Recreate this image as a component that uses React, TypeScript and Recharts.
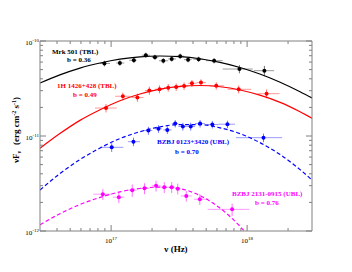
import { ComposedChart, Line, Scatter, XAxis, YAxis, ErrorBar } from 'recharts';

const AXIS = '#808080';
const FONT = '"Liberation Serif", "Times New Roman", serif';

// axis ticks
const xTicks = [4e16, 5e16, 6e16, 7e16, 8e16, 9e16, 1e17, 2e17, 3e17, 4e17, 5e17, 6e17, 7e17, 8e17, 9e17, 1e18, 2e18];
const yTicks = [
  1e-12, 2e-12, 3e-12, 4e-12, 5e-12, 6e-12, 7e-12, 8e-12, 9e-12,
  1e-11, 2e-11, 3e-11, 4e-11, 5e-11, 6e-11, 7e-11, 8e-11, 9e-11, 1e-10,
];

// fitted log-parabola curves
const fitNu = [3.0e16, 4.2e16, 5.9e16, 8.3e16, 1.16e17, 1.63e17, 2.29e17, 3.21e17, 4.5e17, 6.32e17, 8.87e17, 1.24e18, 1.75e18, 2.45e18, 3.0e18];
const mrkFit = [3.61e-11, 4.4e-11, 5.19e-11, 5.87e-11, 6.44e-11, 6.82e-11, 6.95e-11, 6.84e-11, 6.5e-11, 5.96e-11, 5.26e-11, 4.49e-11, 3.68e-11, 2.92e-11, 2.51e-11];
const h1426Fit = [7.43e-12, 1.06e-11, 1.46e-11, 1.89e-11, 2.35e-11, 2.77e-11, 3.12e-11, 3.33e-11, 3.4e-11, 3.3e-11, 3.05e-11, 2.69e-11, 2.26e-11, 1.8e-11, 1.54e-11];
const bz0123Fit = [2.7e-12, 4.02e-12, 5.65e-12, 7.48e-12, 9.4e-12, 1.11e-11, 1.25e-11, 1.32e-11, 1.32e-11, 1.22e-11, 1.06e-11, 8.53e-12, 6.37e-12, 4.43e-12, 3.44e-12];
const bz2131Fit = [1.16e-12, 1.52e-12, 1.9e-12, 2.26e-12, 2.58e-12, 2.8e-12, 2.9e-12, 2.79e-12, 2.36e-12, 1.74e-12, 1.12e-12, 6.28e-13];

// Mrk 501
const mrkNu = [8.93e16, 1.16e17, 1.47e17, 1.8e17, 2.1e17, 2.42e17, 2.79e17, 3.22e17, 3.68e17, 4.4e17, 5.72e17, 8.78e17, 1.34e18];
const mrkFlux = [5.8e-11, 5.87e-11, 6.27e-11, 7.09e-11, 6.75e-11, 6.19e-11, 6.47e-11, 6.92e-11, 6.36e-11, 6.43e-11, 6.21e-11, 5.07e-11, 4.87e-11];
const mrkNuLo = [8.28e16, 1.09e17, 1.36e17, 1.68e17, 1.99e17, 2.25e17, 2.63e17, 3.03e17, 3.43e17, 4.02e17, 4.99e17, 6.61e17, 1.12e18];
const mrkNuHi = [9.82e16, 1.25e17, 1.54e17, 1.93e17, 2.23e17, 2.63e17, 3.0e17, 3.45e17, 3.91e17, 4.76e17, 6.61e17, 1.1e18, 1.58e18];
const mrkFluxErr = [4e-12, 4e-12, 4e-12, 4.5e-12, 4e-12, 4e-12, 4e-12, 4.5e-12, 4e-12, 4e-12, 4e-12, 5e-12, 6e-12];

// 1H 1426+428
const h1426Nu = [9.17e16, 1.22e17, 1.56e17, 1.91e17, 2.27e17, 2.63e17, 3.01e17, 3.44e17, 3.93e17, 4.58e17, 5.93e17, 8.67e17, 1.39e18];
const h1426Flux = [1.97e-11, 2.62e-11, 2.54e-11, 3.01e-11, 3.11e-11, 3.23e-11, 3.28e-11, 3.36e-11, 3.59e-11, 3.65e-11, 3.38e-11, 3.1e-11, 2.79e-11];
const h1426NuLo = [7.62e16, 1.07e17, 1.42e17, 1.77e17, 2.1e17, 2.45e17, 2.84e17, 3.21e17, 3.68e17, 4.26e17, 5.27e17, 7.2e17, 1.2e18];
const h1426NuHi = [1.1e17, 1.38e17, 1.73e17, 2.1e17, 2.45e17, 2.84e17, 3.25e17, 3.68e17, 4.26e17, 4.99e17, 6.79e17, 1.07e18, 1.73e18];
const h1426FluxErr = [2e-12, 2.5e-12, 2.5e-12, 3e-12, 3e-12, 3e-12, 3e-12, 3e-12, 3e-12, 3e-12, 3e-12, 3e-12, 3e-12];

// BZBJ 0123+3420
const bz0123Nu = [1.01e17, 1.46e17, 1.88e17, 2.23e17, 2.59e17, 2.96e17, 3.37e17, 3.85e17, 4.51e17, 5.55e17, 7.17e17, 1.32e18];
const bz0123Flux = [7.6e-12, 8.71e-12, 1.14e-11, 1.19e-11, 1.16e-11, 1.35e-11, 1.26e-11, 1.26e-11, 1.35e-11, 1.32e-11, 1.33e-11, 9.6e-12];
const bz0123NuLo = [8.28e16, 1.33e17, 1.75e17, 2.1e17, 2.42e17, 2.79e17, 3.12e17, 3.6e17, 4.14e17, 5.05e17, 6.14e17, 8.28e17];
const bz0123NuHi = [1.23e17, 1.63e17, 2.01e17, 2.36e17, 2.79e17, 3.12e17, 3.6e17, 4.14e17, 4.9e17, 6.14e17, 8.15e17, 1.81e18];
const bz0123FluxErr = [8e-13, 9e-13, 1.1e-12, 1.1e-12, 1.1e-12, 1.2e-12, 1.2e-12, 1.2e-12, 1.2e-12, 1.2e-12, 1.2e-12, 1e-12];

// BZBJ 2131-0915
const bz2131Nu = [8.69e16, 1.14e17, 1.43e17, 1.76e17, 2.14e17, 2.46e17, 2.79e17, 3.09e17, 3.57e17, 4.49e17, 7.76e17];
const bz2131Flux = [2.44e-12, 2.27e-12, 2.69e-12, 2.81e-12, 2.99e-12, 2.89e-12, 2.89e-12, 2.79e-12, 2.34e-12, 2.16e-12, 1.69e-12];
const bz2131NuLo = [7.4e16, 1.03e17, 1.31e17, 1.63e17, 1.99e17, 2.32e17, 2.59e17, 2.95e17, 3.25e17, 4.07e17, 5.13e17];
const bz2131NuHi = [1.01e17, 1.25e17, 1.54e17, 1.91e17, 2.32e17, 2.59e17, 2.95e17, 3.25e17, 3.91e17, 5.13e17, 1.04e18];
const bz2131FluxErr = [3.2e-13, 3e-13, 4e-13, 3.7e-13, 3.9e-13, 3.8e-13, 3.8e-13, 3.6e-13, 3e-13, 2.8e-13, 2.5e-13];

const curve = (flux: number[]) => flux.map((f, i) => ({ nu: fitNu[i], flux: f }));

const points = (nu: number[], flux: number[], lo: number[], hi: number[], err: number[]) =>
  nu.map((n, i) => ({
    nu: n,
    flux: flux[i],
    nuErr: [n - lo[i], hi[i] - n],
    fluxErr: err[i],
  }));

const SOURCES = [
  { color: '#000000', dash: undefined, fit: curve(mrkFit), pts: points(mrkNu, mrkFlux, mrkNuLo, mrkNuHi, mrkFluxErr) },
  { color: '#ff0000', dash: undefined, fit: curve(h1426Fit), pts: points(h1426Nu, h1426Flux, h1426NuLo, h1426NuHi, h1426FluxErr) },
  { color: '#0000ff', dash: '4 2.5', fit: curve(bz0123Fit), pts: points(bz0123Nu, bz0123Flux, bz0123NuLo, bz0123NuHi, bz0123FluxErr) },
  { color: '#ff00ff', dash: '4 2.5', fit: curve(bz2131Fit), pts: points(bz2131Nu, bz2131Flux, bz2131NuLo, bz2131NuHi, bz2131FluxErr) },
];

function isDecade(v: number) {
  const e = Math.round(Math.log10(v));
  return Math.abs(v / Math.pow(10, e) - 1) < 1e-6;
}

function LogTick(props: any) {
  const { x, y, payload, side } = props;
  const v = payload.value;
  const major = isDecade(v);
  const exp = Math.round(Math.log10(v));
  const len = major ? 6 : 3;
  let x2 = x;
  let y2 = y;
  if (side === 'bottom') y2 = y - len;
  if (side === 'top') y2 = y + len;
  if (side === 'left') x2 = x + len;
  if (side === 'right') x2 = x - len;
  return (
    <g>
      <line x1={x} y1={y} x2={x2} y2={y2} stroke={AXIS} strokeWidth={1} />
      {major && side === 'bottom' && (
        <text x={x} y={y + 12} textAnchor="middle" fontFamily={FONT} fontSize={7} fill="#000">
          10<tspan dy={-3.5} fontSize={5}>{exp}</tspan>
        </text>
      )}
      {major && side === 'left' && (
        <text x={x - 1} y={y + 4} textAnchor="end" fontFamily={FONT} fontSize={7} fill="#000">
          10<tspan dy={-3.5} fontSize={5}>{exp}</tspan>
        </text>
      )}
    </g>
  );
}

const Dot = (color: string) => (p: any) => <circle cx={p.cx} cy={p.cy} r={2} fill={color} />;

const axisCommon = {
  type: 'number' as const,
  scale: 'log' as const,
  allowDataOverflow: true,
  interval: 0 as const,
  tickSize: 0,
  tickMargin: 0,
  tickLine: false,
  axisLine: { stroke: AXIS },
};

export default function App() {
  const label = { fontFamily: FONT, fontWeight: 700 as const };
  return (
    <div style={{ position: 'absolute', left: 0, top: 0, width: 352, height: 272, background: '#fff' }}>
      <ComposedChart width={352} height={272} margin={{ top: 21, right: 20, bottom: 21, left: 20 }}>
        <XAxis
          {...axisCommon}
          xAxisId="b"
          dataKey="nu"
          domain={[3e16, 3e18]}
          ticks={xTicks}
          height={20}
          tick={(p: any) => <LogTick {...p} side="bottom" />}
        />
        <XAxis
          {...axisCommon}
          xAxisId="t"
          orientation="top"
          dataKey="nu"
          domain={[3e16, 3e18]}
          ticks={xTicks}
          height={20}
          tick={(p: any) => <LogTick {...p} side="top" />}
        />
        <YAxis
          {...axisCommon}
          yAxisId="l"
          dataKey="flux"
          domain={[1e-12, 1e-10]}
          ticks={yTicks}
          width={20}
          tick={(p: any) => <LogTick {...p} side="left" />}
        />
        <YAxis
          {...axisCommon}
          yAxisId="r"
          orientation="right"
          dataKey="flux"
          domain={[1e-12, 1e-10]}
          ticks={yTicks}
          width={20}
          tick={(p: any) => <LogTick {...p} side="right" />}
        />
        {SOURCES.map((s, i) => (
          <Line
            key={`fit${i}`}
            xAxisId="b"
            yAxisId="l"
            data={s.fit}
            dataKey="flux"
            type="monotone"
            stroke={s.color}
            strokeWidth={1.2}
            strokeDasharray={s.dash}
            dot={false}
            activeDot={false}
            isAnimationActive={false}
          />
        ))}
        {SOURCES.map((s, i) => (
          <Scatter
            key={`pts${i}`}
            xAxisId="b"
            yAxisId="l"
            data={s.pts}
            dataKey="flux"
            fill={s.color}
            shape={Dot(s.color)}
            isAnimationActive={false}
          >
            <ErrorBar dataKey="nuErr" direction="x" width={0} stroke={s.color} strokeOpacity={0.4} strokeWidth={1} isAnimationActive={false} />
            <ErrorBar dataKey="fluxErr" direction="y" width={0} stroke={s.color} strokeOpacity={0.55} strokeWidth={1} isAnimationActive={false} />
          </Scatter>
        ))}
      </ComposedChart>
      <svg width={352} height={272} style={{ position: 'absolute', left: 0, top: 0, pointerEvents: 'none' }}>
        <g {...label} fontSize={7}>
          <text x={52} y={54} fill="#000">Mrk 501 (TBL)</text>
          <text x={67} y={62} fill="#000">b = 0.36</text>
          <text x={57} y={87.5} fill="#ff0000">1H 1426+428 (TBL)</text>
          <text x={73} y={97} fill="#ff0000">b = 0.49</text>
          <text x={157} y={144} fill="#0000ff">BZBJ 0123+3420 (UBL)</text>
          <text x={175} y={153.5} fill="#0000ff">b = 0.70</text>
          <text x={232} y={195.5} fill="#ff00ff">BZBJ 2131-0915 (UBL)</text>
          <text x={255} y={205} fill="#ff00ff">b = 0.76</text>
        </g>
        <text x={176} y={252} textAnchor="middle" {...label} fontSize={9} fill="#000">ν  (Hz)</text>
        <text transform="translate(19,130) rotate(-90)" textAnchor="middle" {...label} fontSize={9} fill="#000">
          νF<tspan dy={2} fontSize={6}>ν</tspan>
          <tspan dy={-2} dx={6}>(erg cm</tspan>
          <tspan dy={-3.5} fontSize={6}>-2</tspan>
          <tspan dy={3.5}> s</tspan>
          <tspan dy={-3.5} fontSize={6}>-1</tspan>
          <tspan dy={3.5}>)</tspan>
        </text>
      </svg>
    </div>
  );
}
